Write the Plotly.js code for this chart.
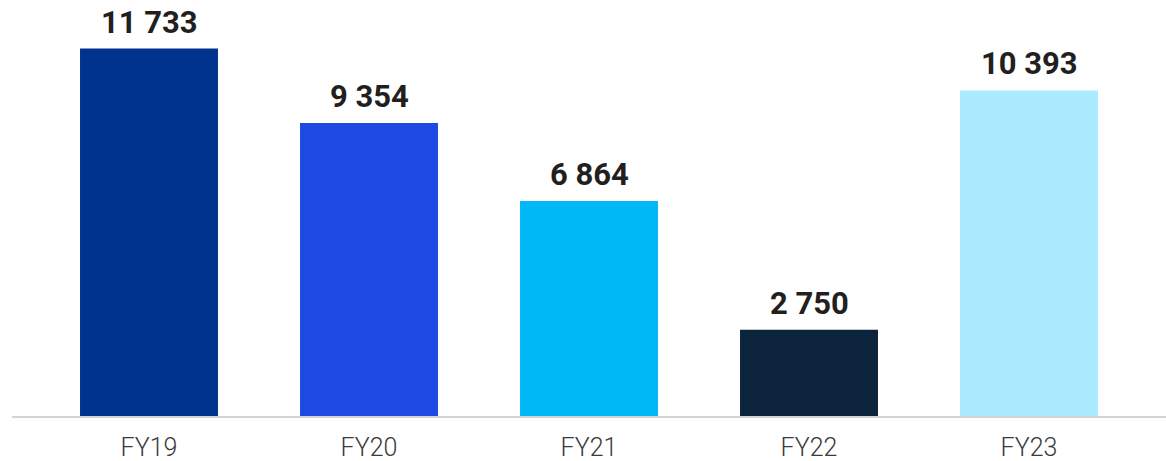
<!DOCTYPE html>
<html>
<head>
<meta charset="utf-8">
<script src="https://cdn.plot.ly/plotly-3.0.1.min.js"></script>
<style>
html,body{margin:0;padding:0;background:#fff;}
#chart{width:1166px;height:461px;}
</style>
</head>
<body>
<div id="chart"></div>
<script>
const categories = ["FY19", "FY20", "FY21", "FY22", "FY23"];
const values = [11733, 9354, 6864, 2750, 10393];
const labels = ["11 733", "9 354", "6 864", "2 750", "10 393"];
const colors = ["#00338D", "#1E49E2", "#00B8F5", "#0C233C", "#ACEAFF"];

const trace = {
  type: "bar",
  x: categories,
  y: values,
  marker: {color: colors},
  hoverinfo: "none"
};

const annotations = categories.map((c, i) => ({
  x: c,
  y: values[i],
  xref: "x",
  yref: "y",
  text: "<b>" + labels[i] + "</b>",
  showarrow: false,
  yanchor: "bottom",
  yshift: 6,
  font: {family: "Roboto, Arial, sans-serif", size: 31, color: "#231F20"}
}));

const layout = {
  width: 1166,
  height: 461,
  margin: {l: 12, r: 0, t: 0, b: 45},
  paper_bgcolor: "#ffffff",
  plot_bgcolor: "#ffffff",
  bargap: 0.373,
  showlegend: false,
  xaxis: {
    type: "category",
    range: [-0.6227, 4.6227],
    showline: true,
    linecolor: "#D4D4D4",
    linewidth: 2,
    ticks: "",
    ticklabelstandoff: 8,
    automargin: false,
    showgrid: false,
    zeroline: false,
    tickfont: {family: "Roboto, Arial, sans-serif", size: 25, color: "#3A3A3A", weight: 300},
    fixedrange: true
  },
  yaxis: {
    range: [0, 13282],
    showgrid: false,
    zeroline: false,
    showticklabels: false,
    showline: false,
    fixedrange: true
  },
  annotations: annotations
};

Plotly.newPlot("chart", [trace], layout, {displayModeBar: false, staticPlot: true});
</script>
</body>
</html>
